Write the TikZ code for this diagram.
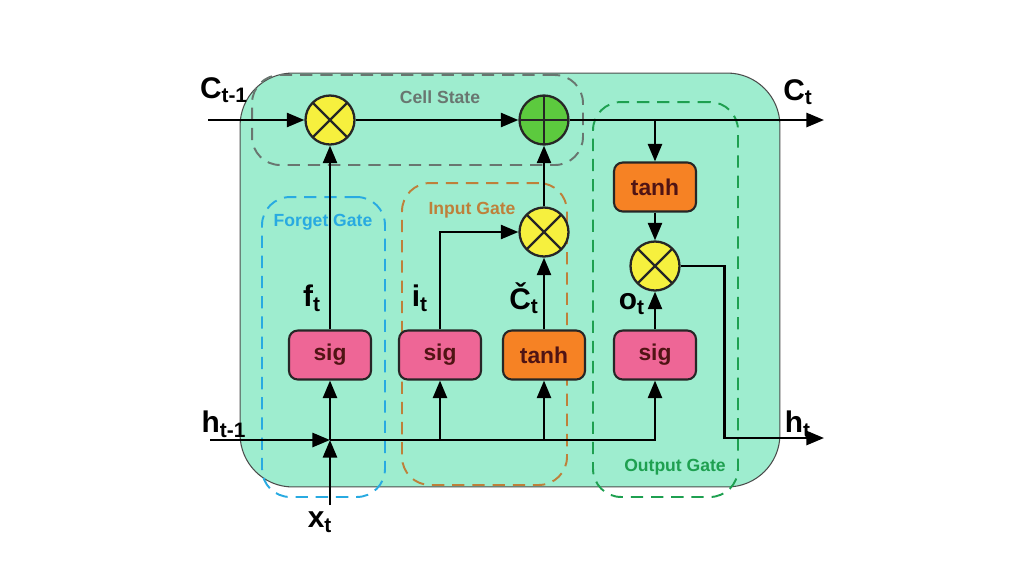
\documentclass[tikz,border=0pt]{standalone}
\usepackage{fontspec}
\setmainfont{Liberation Sans}
\usetikzlibrary{arrows.meta,positioning,calc}

\definecolor{cellbg}{RGB}{158,237,207}
\definecolor{sigpink}{RGB}{238,102,150}
\definecolor{tanhorange}{RGB}{246,130,36}
\definecolor{boxtext}{RGB}{80,20,20}
\definecolor{mulyellow}{RGB}{246,240,62}
\definecolor{addgreen}{RGB}{92,202,62}
\definecolor{stategray}{RGB}{105,118,112}
\definecolor{forgetblue}{RGB}{40,170,225}
\definecolor{inputbrown}{RGB}{190,128,58}
\definecolor{outputgreen}{RGB}{30,160,80}

\begin{document}
\begin{tikzpicture}[
    x=0.02cm, y=-0.02cm,
    box/.style={draw=black!85, line width=1.2pt, rounded corners=5pt, minimum width=1.64cm, minimum height=0.98cm, inner sep=0pt, font=\bfseries\fontsize{13}{15}\selectfont, text=boxtext},
    sigbox/.style={box, fill=sigpink},
    tanhbox/.style={box, fill=tanhorange},
    op/.style={circle, draw=black!85, line width=1.3pt, minimum size=0.98cm, inner sep=0pt},
    timesop/.style={op, fill=mulyellow, path picture={
        \draw[line width=1.3pt] (path picture bounding box.north west) -- (path picture bounding box.south east)
                                (path picture bounding box.north east) -- (path picture bounding box.south west);}},
    plusop/.style={op, fill=addgreen, path picture={
        \draw[line width=1.3pt] (path picture bounding box.north) -- (path picture bounding box.south)
                                (path picture bounding box.east) -- (path picture bounding box.west);}},
    arr/.style={-{Triangle[length=10pt,width=8pt]}, line width=1.4pt},
    gatebox/.style={draw=#1, line width=1.1pt, dash pattern=on 7pt off 4.5pt, rounded corners=16pt, inner sep=0pt},
    lbl/.style={font=\bfseries\fontsize{17}{19}\selectfont},
    gatelbl/.style={font=\bfseries\fontsize{10}{12}\selectfont}
]
    \useasboundingbox (0,0) rectangle (1024,576);

    % cell body
    \node[draw=black!70, line width=0.6pt, fill=cellbg, rounded corners=30pt, minimum width=10.8cm, minimum height=8.28cm] (cell) at (510,280) {};

    % dashed gate regions
    \node[gatebox=stategray, minimum width=6.62cm, minimum height=1.8cm] (state) at (417.5,120) {};
    \node[gatebox=forgetblue, minimum width=2.46cm, minimum height=6.0cm] (forget) at (323.5,347) {};
    \node[gatebox=inputbrown, minimum width=3.3cm, minimum height=6.04cm] (input) at (484.5,334) {};
    \node[gatebox=outputgreen, minimum width=2.9cm, minimum height=7.9cm] (output) at (665.5,299.5) {};

    \node[gatelbl, text=stategray] (statelbl) at (440,97) {Cell State};
    \node[gatelbl, text=forgetblue] (forgetlbl) at (323,222) {Forget Gate};
    \node[gatelbl, text=inputbrown] (inputlbl) at (472,210) {Input Gate};
    \node[gatelbl, text=outputgreen] (outputlbl) at (675,467) {Output Gate};

    % operators
    \node[timesop] (m1) at (330,120) {};
    \node[plusop] (a1) at (544,120) {};
    \node[timesop] (m2) at (544,232) {};
    \node[timesop] (m3) at (655,266) {};

    % layers
    \node[tanhbox] (th1) at (655,187) {tanh};
    \node[sigbox] (s1) at (330,355) {sig};
    \node[sigbox] (s2) at (440,355) {sig};
    \node[tanhbox] (t2) at (544,355) {tanh};
    \node[sigbox] (s4) at (655,355) {sig};

    % free ends
    \coordinate (cin) at (208,120);
    \coordinate (cout) at (824,120);
    \coordinate (ctap) at (655,120);
    \coordinate (hin) at (210,440);
    \coordinate (hout) at (824,438);
    \coordinate (jn) at (330,440);
    \coordinate (xin) at (330,505);

    % cell state line
    \draw[arr] (cin) -- (m1);
    \draw[arr] (m1) -- (a1);
    \draw[arr] (a1) -- (cout);
    \draw[arr] (ctap) -- (th1);
    \draw[arr] (th1) -- (m3);
    \draw[arr] (m3.east) -- ++(44,0) |- (hout);

    % inputs
    \draw[arr] (hin) -- (jn);
    \draw[arr] (xin) -- (jn);
    \draw[arr] (jn) -- (s1);
    \draw[arr] (jn) -| (s4);
    \draw[arr] (s2 |- jn) -- (s2);
    \draw[arr] (t2 |- jn) -- (t2);

    % gate outputs
    \draw[arr] (s1) -- (m1);
    \draw[arr] (s2) |- (m2);
    \draw[arr] (t2) -- (m2);
    \draw[arr] (m2) -- (a1);
    \draw[arr] (s4) -- (m3);

    % signal labels
    \node[lbl] (lcin) at (224,90) {C\textsubscript{t-1}};
    \node[lbl] (lcout) at (798,92) {C\textsubscript{t}};
    \node[lbl] (lhin) at (224,424) {h\textsubscript{t-1}};
    \node[lbl] (lhout) at (798,424) {h\textsubscript{t}};
    \node[lbl] (lxin) at (320,522) {x\textsubscript{t}};
    \node[lbl] (lf) at (312,298) {f\textsubscript{t}};
    \node[lbl] (li) at (420,298) {i\textsubscript{t}};
    \node[lbl] (lc) at (524,298) {Č\textsubscript{t}};
    \node[lbl] (lo) at (632,304) {o\textsubscript{t}};
\end{tikzpicture}
\end{document}
